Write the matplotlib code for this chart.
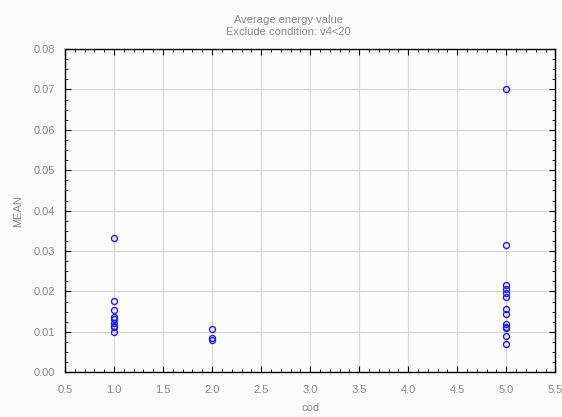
import matplotlib
matplotlib.use("Agg")
import matplotlib.pyplot as plt
from matplotlib.ticker import MultipleLocator, AutoMinorLocator

# data
cod1 = [0.0332, 0.0177, 0.0154, 0.0137, 0.0132, 0.0122, 0.0115, 0.0112, 0.0100]
cod2 = [0.0108, 0.0086, 0.0080]
cod5 = [0.0702, 0.0314, 0.0217, 0.0206, 0.0197, 0.0186, 0.0157, 0.0144,
        0.0119, 0.0113, 0.0109, 0.0089, 0.0070]

xs = [1.0] * len(cod1) + [2.0] * len(cod2) + [5.0] * len(cod5)
ys = cod1 + cod2 + cod5

plt.rcParams['font.family'] = ['Liberation Sans', 'DejaVu Sans']
bg = '#fdfcf8'
txt = '#8a8a8a'

fig = plt.figure(figsize=(5.62, 4.17), dpi=100, facecolor=bg)
ax = fig.add_axes([0.1157, 0.1072, 0.8724, 0.7753], facecolor=bg)

ax.plot(xs, ys, 'o', mfc='none', mec='#1a1aff', ms=4.3, mew=1.0, clip_on=False, zorder=3)

ax.set_xlim(0.5, 5.5)
ax.set_ylim(0.0, 0.08)
ax.xaxis.set_major_locator(MultipleLocator(0.5))
ax.yaxis.set_major_locator(MultipleLocator(0.01))
ax.xaxis.set_minor_locator(AutoMinorLocator(5))
ax.yaxis.set_minor_locator(AutoMinorLocator(4))
ax.xaxis.set_major_formatter(plt.FormatStrFormatter('%.1f'))
ax.yaxis.set_major_formatter(plt.FormatStrFormatter('%.2f'))

ax.tick_params(which='both', direction='in', top=True, right=True, color='black')
ax.tick_params(which='major', length=4, width=0.8, labelsize=8, labelcolor=txt)
ax.tick_params(axis='x', which='major', pad=9)
ax.tick_params(axis='y', which='major', pad=7)
ax.tick_params(which='minor', length=2, width=0.6)
for s in ax.spines.values():
    s.set_color('black')
    s.set_linewidth(1.0)

ax.grid(True, which='major', color='#d6d6d6', linewidth=0.8)
ax.set_axisbelow(True)

ax.set_xlabel('cod', fontsize=8, color=txt, labelpad=6)
ax.set_ylabel('MEAN', fontsize=8, color=txt, labelpad=8)
fig.text(0.513, 0.951, 'Average energy value', ha='center', va='center', fontsize=8, color=txt)
fig.text(0.513, 0.923, 'Exclude condition: v4<20', ha='center', va='center', fontsize=8, color=txt)

fig.savefig('out.png', dpi=100, facecolor=bg)
